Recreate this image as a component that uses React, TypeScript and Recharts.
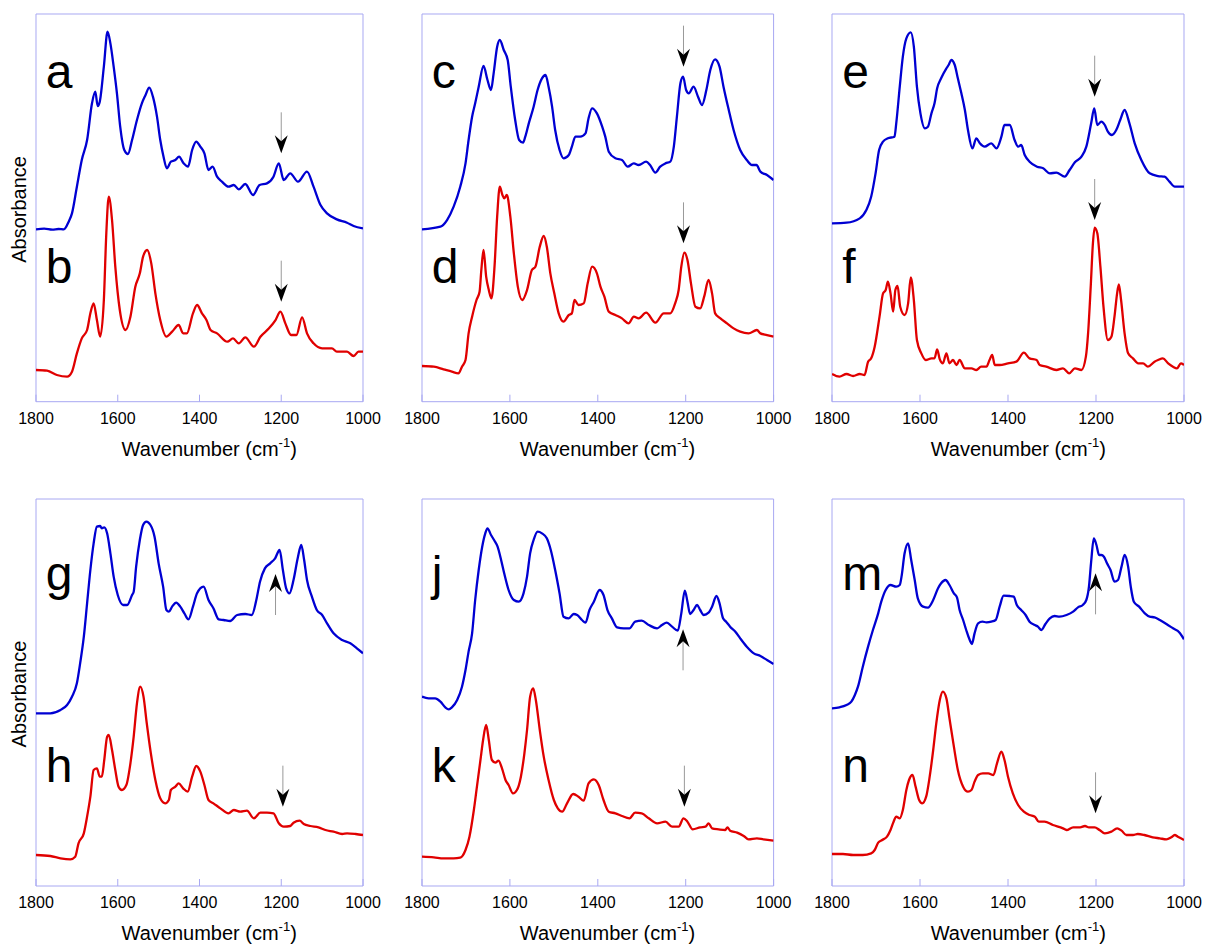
import { LineChart, Line, XAxis, YAxis, ReferenceArea, ReferenceDot } from 'recharts'

// FTIR absorbance spectra, wavenumber (cm-1) vs absorbance (arbitrary units, offset)
type Pt = [number, number]

const wavenumberTicks = [1800, 1600, 1400, 1200, 1000]

const specA: Pt[] = [
  [1800, 51.7], [1780, 51.9], [1760, 51.6], [1745, 51.8], [1732, 51.7], [1720, 54.0], [1712, 56.5], [1700, 64.5],
  [1688, 72.5], [1675, 78.5], [1663, 89.5], [1655, 93.0], [1649, 88.7], [1644, 90.0], [1634, 100.5], [1625, 111.0],
  [1618, 107.5], [1610, 100.5], [1602, 92.5], [1594, 82.5], [1584, 75.5], [1575, 74.3], [1565, 78.5], [1553, 84.5],
  [1541, 89.5], [1532, 92.0], [1523, 94.2], [1514, 91.5], [1504, 85.5], [1496, 78.5], [1488, 73.5], [1480, 70.0],
  [1470, 72.0], [1459, 72.5], [1450, 73.5], [1439, 71.5], [1428, 70.5], [1418, 75.5], [1408, 78.0], [1398, 76.5],
  [1388, 74.5], [1378, 69.5], [1368, 70.5], [1357, 67.5], [1345, 66.0], [1329, 64.5], [1316, 65.0], [1304, 63.7],
  [1288, 65.3], [1269, 62.0], [1253, 65.0], [1235, 65.5], [1219, 67.5], [1206, 71.5], [1194, 66.5], [1178, 68.5],
  [1159, 66.0], [1137, 69.0], [1121, 64.5], [1104, 59.0], [1088, 56.5], [1064, 54.7], [1039, 53.7], [1023, 52.7],
  [1000, 52.0],
]

const specB: Pt[] = [
  [1800, 9.5], [1773, 9.3], [1749, 8.0], [1724, 7.5], [1712, 9.0], [1700, 14.5], [1688, 19.0], [1675, 21.5],
  [1667, 26.5], [1659, 29.5], [1651, 24.5], [1643, 19.5], [1634, 30.5], [1628, 50.5], [1622, 61.5], [1614, 54.5],
  [1606, 40.5], [1595, 27.5], [1581, 21.5], [1569, 25.5], [1557, 34.5], [1546, 38.5], [1538, 43.5], [1528, 45.5],
  [1518, 41.5], [1508, 32.5], [1496, 24.5], [1481, 19.5], [1467, 21.0], [1451, 23.0], [1440, 20.5], [1431, 20.5],
  [1416, 26.5], [1406, 29.0], [1394, 26.5], [1383, 24.5], [1373, 21.5], [1357, 20.5], [1332, 18.0], [1318, 19.0],
  [1304, 17.5], [1288, 19.3], [1267, 16.5], [1251, 19.5], [1230, 22.0], [1214, 24.5], [1202, 27.0], [1190, 23.5],
  [1176, 20.0], [1163, 20.0], [1149, 25.3], [1137, 20.5], [1121, 17.5], [1100, 16.0], [1076, 16.0], [1064, 15.0],
  [1039, 15.0], [1023, 13.7], [1011, 15.0], [1000, 15.0],
]

const specC: Pt[] = [
  [1800, 51.7], [1758, 52.5], [1743, 54.5], [1728, 58.5], [1713, 64.5], [1701, 71.5], [1694, 78.5], [1686, 85.5],
  [1679, 89.5], [1671, 94.5], [1660, 100.7], [1651, 96.5], [1643, 93.5], [1637, 98.5], [1629, 106.5], [1623, 108.5],
  [1614, 105.5], [1605, 102.5], [1598, 94.5], [1588, 84.5], [1579, 78.5], [1570, 77.7], [1565, 79.5], [1557, 83.5],
  [1546, 88.5], [1537, 93.5], [1527, 97.0], [1519, 98.0], [1512, 94.5], [1504, 88.5], [1497, 81.5], [1487, 75.5],
  [1478, 73.0], [1466, 74.0], [1459, 76.5], [1451, 79.5], [1440, 79.5], [1428, 80.5], [1421, 85.0], [1413, 88.0],
  [1402, 86.5], [1390, 82.5], [1383, 79.5], [1375, 75.0], [1360, 73.0], [1345, 72.5], [1332, 70.5], [1318, 71.5],
  [1307, 71.0], [1290, 72.0], [1281, 71.0], [1269, 68.7], [1258, 70.5], [1246, 71.5], [1235, 72.0], [1227, 76.5],
  [1220, 85.5], [1212, 95.5], [1206, 97.5], [1199, 93.5], [1193, 92.5], [1182, 94.5], [1172, 91.5], [1163, 89.0],
  [1153, 93.5], [1144, 99.5], [1133, 102.7], [1123, 100.5], [1114, 94.5], [1102, 87.5], [1091, 81.5], [1076, 75.5],
  [1061, 72.5], [1049, 71.0], [1039, 71.0], [1030, 69.0], [1015, 68.0], [1000, 66.5],
]

const specD: Pt[] = [
  [1800, 10.7], [1773, 10.5], [1751, 9.7], [1732, 9.0], [1717, 8.5], [1709, 10.5], [1701, 12.5], [1694, 20.5],
  [1686, 25.5], [1676, 30.5], [1669, 33.0], [1665, 39.5], [1660, 45.5], [1654, 37.5], [1648, 33.5], [1642, 31.0],
  [1635, 40.5], [1629, 55.5], [1623, 64.5], [1617, 62.0], [1613, 61.0], [1607, 62.0], [1599, 55.5], [1591, 44.5],
  [1582, 34.5], [1572, 30.5], [1561, 33.5], [1550, 39.5], [1542, 40.5], [1532, 46.5], [1523, 49.7], [1516, 46.5],
  [1508, 38.5], [1499, 32.5], [1489, 26.5], [1478, 24.0], [1466, 26.0], [1459, 26.5], [1453, 30.5], [1444, 29.0],
  [1432, 29.5], [1423, 35.5], [1413, 40.5], [1402, 38.5], [1394, 34.5], [1385, 31.5], [1375, 27.0], [1360, 26.0],
  [1345, 25.0], [1330, 23.5], [1318, 25.5], [1307, 25.0], [1290, 26.7], [1269, 23.7], [1250, 26.5], [1235, 26.5],
  [1224, 29.5], [1216, 33.5], [1210, 40.5], [1203, 44.7], [1196, 42.5], [1188, 35.5], [1178, 28.5], [1167, 28.0],
  [1158, 31.5], [1148, 36.5], [1140, 32.5], [1133, 26.5], [1121, 25.0], [1106, 23.5], [1091, 22.0], [1076, 21.0],
  [1057, 20.5], [1038, 21.5], [1030, 20.5], [1015, 20.0], [1000, 19.5],
]

const specE: Pt[] = [
  [1800, 53.5], [1767, 53.7], [1737, 55.0], [1722, 57.5], [1711, 61.5], [1701, 68.5], [1693, 75.5], [1684, 78.0],
  [1673, 79.0], [1658, 79.5], [1654, 83.5], [1646, 94.5], [1639, 103.5], [1631, 109.0], [1621, 110.8], [1614, 106.5],
  [1607, 94.5], [1599, 86.5], [1589, 82.0], [1582, 82.5], [1574, 86.5], [1567, 89.5], [1561, 94.0], [1552, 97.0],
  [1540, 100.0], [1535, 101.0], [1529, 102.5], [1521, 101.0], [1514, 97.0], [1506, 92.5], [1498, 87.5], [1491, 81.5],
  [1481, 76.0], [1472, 79.0], [1464, 77.5], [1453, 76.5], [1438, 77.5], [1426, 76.0], [1415, 79.5], [1408, 83.0],
  [1396, 83.0], [1385, 78.5], [1377, 76.5], [1370, 77.0], [1362, 74.0], [1351, 72.0], [1334, 70.5], [1320, 70.0],
  [1305, 68.5], [1290, 68.7], [1271, 67.5], [1260, 69.5], [1248, 71.8], [1233, 73.5], [1222, 76.5], [1211, 83.5],
  [1204, 88.0], [1197, 83.0], [1188, 84.0], [1180, 83.0], [1173, 81.0], [1164, 80.0], [1154, 81.5], [1145, 84.5],
  [1135, 87.5], [1124, 83.5], [1112, 77.5], [1097, 72.5], [1078, 68.5], [1059, 67.7], [1044, 67.5], [1033, 66.0],
  [1021, 64.5], [1000, 64.5],
]

const specF: Pt[] = [
  [1800, 8.3], [1783, 7.5], [1767, 8.3], [1752, 7.7], [1737, 8.3], [1726, 8.0], [1718, 12.0], [1711, 13.0],
  [1703, 16.5], [1692, 25.5], [1684, 32.5], [1678, 33.5], [1673, 36.0], [1667, 32.5], [1661, 27.0], [1656, 33.5],
  [1651, 34.7], [1645, 28.5], [1635, 26.0], [1627, 29.5], [1621, 37.3], [1614, 30.5], [1607, 18.5], [1597, 14.5],
  [1587, 12.5], [1574, 13.0], [1567, 13.0], [1561, 15.7], [1555, 12.7], [1548, 11.5], [1540, 14.5], [1533, 11.5],
  [1525, 12.5], [1517, 11.0], [1510, 12.5], [1498, 10.0], [1483, 10.0], [1472, 9.5], [1461, 10.5], [1449, 10.5],
  [1442, 12.5], [1436, 14.0], [1430, 11.0], [1419, 11.0], [1400, 11.5], [1381, 12.0], [1364, 14.7], [1351, 13.0],
  [1335, 12.5], [1328, 11.0], [1313, 10.5], [1290, 9.5], [1275, 10.0], [1261, 8.5], [1248, 10.0], [1233, 9.5],
  [1223, 13.5], [1218, 20.5], [1212, 34.5], [1207, 47.5], [1203, 52.2], [1197, 50.5], [1190, 40.5], [1183, 28.5],
  [1173, 18.5], [1165, 19.5], [1158, 25.5], [1152, 32.5], [1148, 35.2], [1143, 30.5], [1135, 20.5], [1127, 14.5],
  [1116, 13.0], [1104, 11.5], [1093, 11.5], [1082, 10.5], [1067, 12.0], [1059, 12.5], [1048, 13.0], [1036, 11.5],
  [1025, 10.5], [1016, 10.0], [1007, 11.5], [1000, 11.0],
]

const specG: Pt[] = [
  [1800, 51.8], [1765, 51.8], [1740, 52.8], [1724, 54.3], [1712, 56.8], [1700, 60.8], [1692, 66.8], [1683, 74.8],
  [1675, 84.8], [1667, 94.8], [1659, 102.8], [1651, 107.8], [1643, 108.0], [1639, 107.3], [1633, 107.6], [1626, 105.8],
  [1618, 99.8], [1610, 92.8], [1600, 87.3], [1587, 84.3], [1577, 84.3], [1565, 87.3], [1561, 88.3], [1555, 95.8],
  [1546, 103.8], [1538, 108.3], [1530, 109.3], [1520, 108.3], [1510, 104.8], [1500, 96.8], [1489, 89.8], [1481, 82.8],
  [1475, 82.3], [1467, 83.8], [1457, 85.0], [1447, 83.8], [1437, 81.8], [1427, 80.0], [1416, 83.8], [1406, 87.8],
  [1390, 89.8], [1378, 85.8], [1366, 83.3], [1353, 80.0], [1341, 79.8], [1325, 79.5], [1308, 81.3], [1288, 81.6],
  [1272, 81.3], [1261, 85.8], [1252, 91.3], [1240, 95.3], [1227, 96.8], [1215, 98.3], [1204, 100.8], [1196, 94.8],
  [1188, 89.3], [1180, 87.8], [1170, 91.8], [1159, 98.8], [1151, 102.3], [1144, 97.8], [1137, 91.8], [1125, 86.8],
  [1113, 82.8], [1100, 81.3], [1088, 78.8], [1072, 75.8], [1051, 73.8], [1031, 72.8], [1015, 71.3], [1000, 69.8],
]

const specH: Pt[] = [
  [1800, 9.3], [1765, 9.0], [1740, 8.3], [1716, 8.0], [1704, 8.8], [1696, 12.8], [1683, 15.8], [1675, 20.8],
  [1667, 26.8], [1659, 34.8], [1651, 35.3], [1644, 32.8], [1639, 32.8], [1633, 37.8], [1626, 44.8], [1622, 45.3],
  [1614, 40.8], [1606, 34.8], [1598, 29.8], [1590, 28.8], [1579, 30.3], [1569, 36.8], [1561, 44.8], [1553, 54.8],
  [1545, 59.8], [1537, 56.8], [1529, 48.8], [1519, 39.8], [1508, 31.8], [1496, 26.3], [1484, 24.8], [1475, 25.8],
  [1470, 28.8], [1459, 29.8], [1451, 30.8], [1440, 29.3], [1429, 28.3], [1418, 32.8], [1408, 36.0], [1398, 34.3],
  [1388, 30.3], [1378, 25.8], [1366, 24.8], [1349, 23.3], [1329, 21.8], [1316, 22.8], [1300, 22.3], [1284, 22.6],
  [1267, 20.3], [1251, 22.0], [1235, 22.0], [1219, 21.8], [1206, 18.8], [1194, 17.8], [1178, 18.0], [1170, 19.0],
  [1155, 19.6], [1145, 18.6], [1129, 18.0], [1109, 17.6], [1092, 16.8], [1072, 16.3], [1051, 15.6], [1039, 15.8],
  [1018, 15.6], [1000, 15.3],
]

const specJ: Pt[] = [
  [1800, 56.8], [1785, 56.3], [1770, 56.3], [1758, 55.3], [1747, 53.6], [1739, 53.0], [1732, 53.6], [1720, 55.8],
  [1709, 59.8], [1701, 64.8], [1694, 70.3], [1686, 75.8], [1679, 85.8], [1671, 94.8], [1663, 101.8], [1656, 105.8],
  [1651, 107.3], [1643, 105.3], [1636, 103.8], [1628, 101.8], [1620, 97.8], [1613, 93.8], [1603, 88.8], [1591, 85.8],
  [1580, 85.3], [1569, 87.8], [1561, 92.8], [1554, 99.8], [1546, 103.8], [1537, 106.3], [1527, 105.8], [1516, 104.3],
  [1507, 100.8], [1497, 94.8], [1487, 87.8], [1478, 80.8], [1466, 80.3], [1455, 81.6], [1447, 81.3], [1436, 79.8],
  [1428, 79.0], [1419, 82.8], [1409, 85.3], [1396, 88.8], [1387, 87.3], [1378, 82.8], [1368, 80.3], [1356, 77.6],
  [1341, 77.3], [1328, 77.3], [1315, 79.3], [1300, 79.6], [1284, 78.3], [1265, 77.3], [1254, 78.3], [1243, 79.0],
  [1231, 77.8], [1218, 76.6], [1210, 81.8], [1202, 88.6], [1196, 85.3], [1190, 81.6], [1182, 82.8], [1174, 84.3],
  [1167, 82.8], [1159, 81.3], [1148, 82.0], [1140, 83.8], [1130, 87.0], [1123, 84.8], [1115, 80.3], [1108, 79.3],
  [1099, 77.8], [1087, 76.3], [1076, 74.3], [1061, 71.8], [1045, 69.8], [1030, 69.0], [1015, 67.8], [1000, 66.6],
]

const specK: Pt[] = [
  [1800, 8.8], [1773, 8.6], [1751, 8.3], [1728, 8.3], [1713, 8.5], [1701, 10.8], [1692, 14.8], [1682, 22.8],
  [1675, 29.8], [1667, 37.8], [1661, 43.8], [1654, 48.3], [1648, 43.8], [1641, 37.8], [1633, 37.0], [1626, 37.6],
  [1618, 35.3], [1610, 31.8], [1603, 30.3], [1593, 27.8], [1584, 28.8], [1575, 32.8], [1567, 39.8], [1561, 46.8],
  [1554, 56.8], [1547, 59.3], [1541, 55.8], [1532, 46.8], [1523, 38.8], [1512, 31.8], [1500, 25.8], [1491, 23.3],
  [1481, 22.3], [1470, 24.8], [1456, 27.6], [1444, 26.8], [1432, 25.6], [1421, 30.8], [1409, 32.0], [1398, 30.3],
  [1387, 25.8], [1375, 22.3], [1360, 21.8], [1345, 21.0], [1328, 20.3], [1315, 22.0], [1300, 21.8], [1284, 20.3],
  [1265, 18.8], [1246, 19.3], [1231, 17.8], [1216, 17.8], [1205, 20.3], [1196, 19.3], [1184, 17.0], [1167, 17.6],
  [1155, 17.8], [1148, 18.8], [1140, 17.3], [1125, 17.0], [1110, 16.8], [1105, 17.6], [1099, 16.6], [1083, 16.0],
  [1068, 15.0], [1057, 14.0], [1038, 14.3], [1023, 14.0], [1000, 13.6],
]

const specM: Pt[] = [
  [1800, 53.3], [1783, 53.6], [1767, 54.3], [1756, 55.3], [1748, 57.3], [1741, 59.8], [1730, 65.8], [1718, 71.8],
  [1707, 76.8], [1695, 81.8], [1688, 85.3], [1678, 88.8], [1667, 90.3], [1654, 89.8], [1646, 90.3], [1642, 92.8],
  [1635, 99.8], [1627, 102.8], [1620, 97.8], [1612, 91.8], [1605, 86.3], [1593, 83.8], [1582, 83.5], [1570, 85.8],
  [1559, 89.3], [1552, 90.8], [1542, 91.8], [1533, 90.3], [1523, 87.8], [1516, 86.6], [1510, 82.8], [1502, 79.8],
  [1495, 76.8], [1487, 73.8], [1482, 72.6], [1476, 75.8], [1468, 78.8], [1458, 79.3], [1449, 79.1], [1438, 79.3],
  [1428, 79.8], [1419, 83.8], [1410, 87.1], [1396, 87.0], [1387, 86.8], [1380, 84.3], [1370, 82.8], [1360, 81.3],
  [1351, 79.3], [1339, 78.3], [1332, 77.8], [1324, 76.8], [1315, 78.6], [1305, 80.3], [1294, 81.0], [1283, 80.8],
  [1267, 81.3], [1252, 82.3], [1241, 83.6], [1230, 84.3], [1222, 85.8], [1216, 89.8], [1211, 97.3], [1205, 104.3],
  [1199, 102.3], [1193, 99.3], [1188, 99.3], [1182, 98.8], [1175, 96.8], [1167, 94.8], [1158, 91.3], [1150, 91.8],
  [1142, 95.8], [1135, 99.3], [1127, 95.8], [1121, 89.8], [1114, 85.3], [1102, 83.8], [1089, 81.8], [1078, 80.8],
  [1067, 80.6], [1055, 79.8], [1040, 78.6], [1025, 77.3], [1010, 76.0], [1000, 74.0],
]

const specN: Pt[] = [
  [1800, 9.6], [1775, 9.6], [1752, 9.3], [1730, 9.3], [1711, 9.8], [1703, 10.8], [1695, 13.0], [1686, 13.8],
  [1675, 14.8], [1667, 16.8], [1660, 19.3], [1654, 20.8], [1646, 20.3], [1639, 22.8], [1631, 28.8], [1625, 31.8],
  [1617, 33.3], [1610, 29.8], [1602, 25.8], [1595, 24.8], [1586, 26.8], [1578, 32.8], [1570, 40.8], [1563, 48.8],
  [1555, 55.8], [1548, 58.3], [1540, 56.3], [1533, 50.3], [1523, 41.8], [1514, 34.8], [1502, 29.8], [1491, 28.3],
  [1483, 28.8], [1476, 31.3], [1468, 33.3], [1457, 33.8], [1445, 33.8], [1433, 33.3], [1425, 36.8], [1415, 40.3],
  [1408, 37.8], [1400, 32.8], [1389, 27.8], [1377, 24.3], [1364, 22.3], [1351, 21.3], [1339, 20.8], [1330, 19.3],
  [1317, 19.3], [1298, 18.3], [1275, 17.3], [1267, 16.8], [1252, 17.6], [1236, 17.6], [1225, 18.0], [1216, 17.6],
  [1203, 17.6], [1192, 16.8], [1180, 15.8], [1165, 16.3], [1152, 17.3], [1142, 16.6], [1131, 15.3], [1116, 15.3],
  [1105, 15.6], [1090, 15.3], [1071, 14.6], [1055, 14.3], [1040, 14.0], [1029, 14.6], [1021, 15.3], [1014, 14.8],
  [1000, 13.8],
]

// marked band positions (wavenumber) and arrow tip heights
const arrowsAB = [{ x: 1200, y: 74.5, dir: 'down' }, { x: 1200, y: 30.0, dir: 'down' }]
const arrowsCD = [{ x: 1205, y: 100.5, dir: 'down' }, { x: 1205, y: 47.5, dir: 'down' }]
const arrowsEF = [{ x: 1203, y: 91.5, dir: 'down' }, { x: 1203, y: 54.5, dir: 'down' }]
const arrowsGH = [{ x: 1214, y: 93.6, dir: 'up' }, { x: 1196, y: 23.8, dir: 'down' }]
const arrowsJK = [{ x: 1206, y: 77.0, dir: 'up' }, { x: 1203, y: 23.8, dir: 'down' }]
const arrowsMN = [{ x: 1201, y: 93.8, dir: 'up' }, { x: 1201, y: 21.8, dir: 'down' }]

const FONT = 'Arial, "Liberation Sans", sans-serif'
const BOX = '#a8a8f2'
const BLUE = '#0000d2'
const RED = '#e00000'

const cols = [
  { left: 35.7, w: 327 },
  { left: 421.7, w: 351.6 },
  { left: 832.3, w: 352 },
]
const rows = [
  { top: 14, h: 387.7, yMax: 116.3, upper: 74, lower: 269 },
  { top: 499, h: 387, yMax: 116.1, upper: 91, lower: 283 },
]

const panels = [
  { col: 0, row: 0, blue: specA, red: specB, labels: ['a', 'b'], arrows: arrowsAB },
  { col: 1, row: 0, blue: specC, red: specD, labels: ['c', 'd'], arrows: arrowsCD },
  { col: 2, row: 0, blue: specE, red: specF, labels: ['e', 'f'], arrows: arrowsEF },
  { col: 0, row: 1, blue: specG, red: specH, labels: ['g', 'h'], arrows: arrowsGH },
  { col: 1, row: 1, blue: specJ, red: specK, labels: ['j', 'k'], arrows: arrowsJK },
  { col: 2, row: 1, blue: specM, red: specN, labels: ['m', 'n'], arrows: arrowsMN },
]

const toRows = (pts: Pt[]) => pts.map(([x, y]) => ({ x, y }))

const Arrow = (props: any) => {
  const { cx, cy, dir } = props
  const s = dir === 'down' ? -1 : 1
  return (
    <g>
      <line x1={cx} x2={cx} y1={cy + s * 12} y2={cy + s * 41} stroke="#999" strokeWidth={1} />
      <path
        d={`M${cx},${cy} L${cx - 6.5},${cy + s * 18} L${cx},${cy + s * 12} L${cx + 6.5},${cy + s * 18} Z`}
        fill="#000"
      />
    </g>
  )
}

// room around each plot box so the end tick labels are not clipped
const PADX = 24
const PADY = 5
const AXIS_H = 30

function Panel({ p }: { p: (typeof panels)[number] }) {
  const c = cols[p.col]
  const r = rows[p.row]
  return (
    <div style={{ position: 'absolute', left: c.left - PADX, top: r.top - PADY }}>
      <LineChart
        width={c.w + 2 * PADX}
        height={r.h + PADY + AXIS_H}
        margin={{ top: PADY, right: PADX, bottom: 0, left: PADX }}
      >
        <XAxis
          type="number"
          dataKey="x"
          domain={[1000, 1800]}
          reversed
          allowDataOverflow
          ticks={wavenumberTicks}
          interval={0}
          height={AXIS_H}
          axisLine={false}
          tickLine={{ stroke: BOX, strokeWidth: 1 }}
          tickSize={-7}
          tickMargin={18}
          tick={{ fill: '#000', fontSize: 16, fontFamily: FONT }}
        />
        <YAxis type="number" domain={[0, r.yMax]} hide allowDataOverflow />
        <ReferenceArea x1={1800} x2={1000} y1={0} y2={r.yMax} fill="none" stroke={BOX} strokeWidth={1} ifOverflow="visible" />
        <Line data={toRows(p.blue)} dataKey="y" type="monotone" stroke={BLUE} strokeWidth={2.3} dot={false} isAnimationActive={false} />
        <Line data={toRows(p.red)} dataKey="y" type="monotone" stroke={RED} strokeWidth={2.3} dot={false} isAnimationActive={false} />
        {p.arrows.map((a, i) => (
          <ReferenceDot key={i} x={a.x} y={a.y} ifOverflow="visible" shape={(sp: any) => <Arrow {...sp} dir={a.dir} />} />
        ))}
      </LineChart>
    </div>
  )
}

export default function App() {
  return (
    <div style={{ position: 'absolute', left: 0, top: 0, width: 1205, height: 945, background: '#fff' }}>
      {panels.map((p, i) => (
        <Panel key={i} p={p} />
      ))}
      <svg width={1205} height={945} style={{ position: 'absolute', left: 0, top: 0, pointerEvents: 'none' }}>
        {panels.map((p, i) => {
          const c = cols[p.col]
          const r = rows[p.row]
          return (
            <g key={i} fontFamily={FONT} fill="#000">
              <text x={c.left + 10} y={r.top + r.upper} fontSize={48}>{p.labels[0]}</text>
              <text x={c.left + 10} y={r.top + r.lower} fontSize={48}>{p.labels[1]}</text>
            </g>
          )
        })}
        {rows.map((r, i) => (
          <g key={i} fontFamily={FONT} fill="#000">
            <text transform={`translate(26,${r.top + r.h * 0.504}) rotate(-90)`} textAnchor="middle" fontSize={20}>
              Absorbance
            </text>
            {cols.map((c, j) => (
              <text key={j} x={c.left + c.w / 2 + 10} y={r.top + r.h + 54} textAnchor="middle" fontSize={20}>
                Wavenumber (cm
                <tspan dy={-9} fontSize={13}>-1</tspan>
                <tspan dy={9}>)</tspan>
              </text>
            ))}
          </g>
        ))}
      </svg>
    </div>
  )
}
